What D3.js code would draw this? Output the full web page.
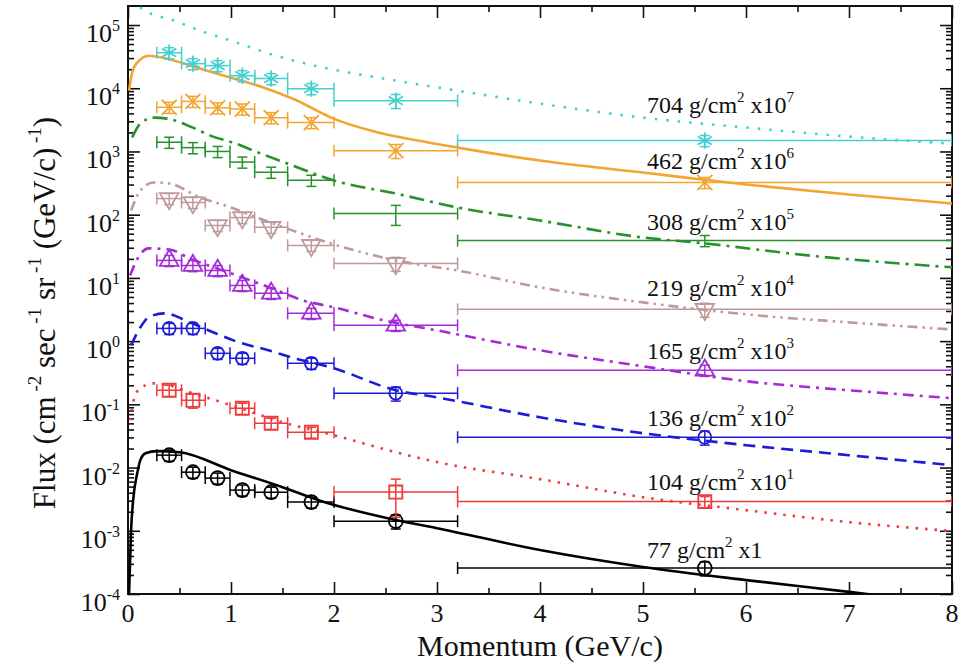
<!DOCTYPE html>
<html>
<head>
<meta charset="utf-8">
<script src="https://cdn.jsdelivr.net/npm/d3@7"></script>
<style>
    body { margin: 0; background: #fff; }
</style>
</head>
<body>
<div id="chart"></div>
<script>
var margin = {top: 6, right: 14, bottom: 77, left: 128},
    width = 966 - margin.left - margin.right,
    height = 671 - margin.top - margin.bottom;

var serifFont = "Liberation Serif";
var NBSP = "\u00a0";

// momentum bins (GeV/c)
var momentum = [0.4, 0.63, 0.87, 1.11, 1.39, 1.78, 2.6, 5.6];
var binLow = [0.28, 0.52, 0.75, 0.99, 1.23, 1.55, 2.0, 3.2];
var binHigh = [0.52, 0.75, 0.99, 1.23, 1.55, 2.0, 3.2, 8.0];

// atmospheric depths (g/cm2) and scale exponents
var depths = ["77", "104", "136", "165", "219", "308", "462", "704"];
var scaleExp = [0, 1, 2, 3, 4, 5, 6, 7];
var labelFlux = [3.7e-4, 0.0044, 0.0451, 0.515, 5.1, 58.3, 537, 4120];

// measured flux (already scaled), null = no point
var flux77 = [0.0157, 0.00845, 0.00681, 0.0044, 0.00408, 0.00284, 0.00142, 2.58e-4];
var flux104 = [0.167, 0.116, null, 0.0867, 0.0502, 0.0362, 0.0041, 0.0029];
var flux136 = [1.59, 1.59, 0.641, 0.535, null, 0.446, 0.150, 0.0302];
var flux165 = [18.9, 15.7, 13.1, 7.6, 5.7, 2.75, 1.78, 0.346];
var flux219 = [180, 156, 67.5, 90, 63, 32.7, 16.9, 3.18];
var flux308 = [1400, 1150, 1000, 680, 470, 350, 104, 39];
var flux462 = [5000, 6200, 4900, 4700, 3430, 2860, 1030, 323];
var flux704 = [36500, 24500, 22800, 15800, 14200, 9860, 6370, 1490];

// relative vertical errors
var err77 = [0.2, 0.2, 0.2, 0.2, 0.2, 0.2, 0.25, 0.25];
var err104 = [0.2, 0.25, 0, 0.2, 0.2, 0.2, 0.6, 0.2];
var err136 = [0.2, 0.2, 0.2, 0.2, 0, 0.2, 0.25, 0.25];
var err165 = [0.2, 0.2, 0.2, 0.2, 0.2, 0.2, 0.2, 0.2];
var err219 = [0.2, 0.2, 0.2, 0.2, 0.2, 0.2, 0.25, 0.25];
var err308 = [0.2, 0.2, 0.2, 0.2, 0.2, 0.2, 0.35, 0.2];
var err462 = [0.2, 0.2, 0.2, 0.2, 0.2, 0.2, 0.25, 0.2];
var err704 = [0.2, 0.2, 0.2, 0.2, 0.2, 0.2, 0.25, 0.2];

// model curves [momentum, flux]
var model77 = [[0.01, 1.0e-4], [0.03, 1.03e-3], [0.05, 3.05e-3], [0.09, 8.2e-3], [0.12, 0.0131], [0.17, 0.0169],
    [0.28, 0.0182], [0.5, 0.0175], [1.0, 0.0091], [1.5, 0.0049], [1.85, 0.00305], [2.6, 0.00148], [3.0, 0.0011],
    [4.0, 4.95e-4], [5.0, 2.67e-4], [6.0, 1.66e-4], [7.0, 1.08e-4], [7.5, 8.6e-5]];
var model104 = [[0.02, 0.056], [0.06, 0.125], [0.12, 0.18], [0.25, 0.215], [0.4, 0.2], [0.6, 0.155], [1.0, 0.097],
    [1.5, 0.052], [2.0, 0.0325], [2.6, 0.0175], [3.0, 0.0122], [4.0, 0.00656], [5.0, 0.0034], [6.0, 0.00212],
    [7.0, 0.00137], [8.0, 0.00099]];
var model136 = [[0.03, 0.86], [0.12, 1.65], [0.2, 2.38], [0.35, 2.75], [0.6, 1.98], [0.85, 1.33], [1.05, 0.99],
    [1.4, 0.69], [1.55, 0.575], [2.0, 0.372], [2.6, 0.167], [3.0, 0.129], [4.0, 0.0625], [5.0, 0.0349],
    [6.0, 0.0226], [7.0, 0.0157], [8.0, 0.0109]];
var model165 = [[0.02, 10.9], [0.1, 21.1], [0.2, 29.3], [0.4, 28.2], [0.6, 20.3], [1.0, 11.8], [1.4, 6.82],
    [1.7, 4.41], [2.0, 3.42], [2.5, 2.1], [3.0, 1.48], [4.0, 0.716], [5.0, 0.40], [6.0, 0.232], [7.0, 0.167], [8.0, 0.125]];
var model219 = [[0.03, 116], [0.12, 241], [0.25, 323], [0.4, 311], [0.7, 187], [1.0, 130], [1.25, 90], [1.6, 56],
    [2.0, 33.8], [2.7, 17.6], [3.2, 13.1], [4.0, 7.08], [5.0, 4.1], [6.0, 2.65], [7.0, 1.98], [8.0, 1.53]];
var model308 = [[0.04, 1660], [0.12, 2760], [0.25, 3430], [0.38, 3310], [0.63, 2380], [0.8, 1780], [1.05, 1330],
    [1.22, 1030], [1.6, 599], [2.0, 347], [2.6, 216], [3.2, 130], [4.0, 80.9], [5.0, 43.6], [5.6, 35.1], [6.6, 22.7],
    [8.0, 14.7]];
var model462 = [[0.01, 9160], [0.04, 17600], [0.09, 25400], [0.2, 32700], [0.34, 30400], [0.67, 21100], [1.0, 14700],
    [1.32, 10200], [1.64, 6400], [1.96, 3500], [2.4, 2050], [2.8, 1500], [3.2, 1150], [4.0, 718], [5.0, 464],
    [6.0, 300], [7.0, 208], [8.0, 150]];
var model704 = [[0.03, 250000], [0.15, 174600], [0.45, 117000], [0.73, 78300], [1.0, 56500], [1.4, 34000], [1.86, 21900],
    [2.6, 13200], [3.2, 9160], [4.0, 5710], [5.0, 3430], [6.0, 2390], [7.0, 1720], [8.0, 1330]];

var series = [
    {flux: flux77, err: err77, model: model77, color: "#000000", symbol: d3.symbolCircle, size: 150, dash: null},
    {flux: flux104, err: err104, model: model104, color: "#ee3b3b", symbol: d3.symbolSquare, size: 170, dash: "2.5,7"},
    {flux: flux136, err: err136, model: model136, color: "#1c1cd6", symbol: d3.symbolCircle, size: 130, dash: "12,7"},
    {flux: flux165, err: err165, model: model165, color: "#a52bd8", symbol: d3.symbolTriangle, size: 150, dash: "11,6,3,6"},
    {flux: flux219, err: err219, model: model219, color: "#c09a9a", symbol: d3.symbolTriangle, size: 150, flip: true, dash: "10,5,2.5,5,2.5,5"},
    {flux: flux308, err: err308, model: model308, color: "#27912b", symbol: d3.symbolCross, size: 0, dash: "15,6,3,6"},
    {flux: flux462, err: err462, model: model462, color: "#f2a531", symbol: d3.symbolX, size: 150, dash: null},
    {flux: flux704, err: err704, model: model704, color: "#46cfcf", symbol: d3.symbolAsterisk, size: 190, dash: "2.5,9"}
];

var svg = d3.select("#chart")
    .append("svg")
    .attr("width", width + margin.left + margin.right)
    .attr("height", height + margin.top + margin.bottom)
    .append("g")
    .attr("transform", "translate(" + margin.left + "," + margin.top + ")");

var x = d3.scaleLinear().domain([0, 8]).range([0, width]);
var y = d3.scaleLog().domain([1e-4, 2e5]).range([height, 0]);

svg.append("clipPath").attr("id", "plot-clip")
    .append("rect").attr("width", width).attr("height", height);

// tick values
var majorX = d3.range(0, 9);
var minorX = d3.range(0.5, 8, 1);
var majorY = d3.range(-4, 6).map(function (k) { return Math.pow(10, k); });
var minorY = [];
d3.range(-4, 6).forEach(function (k) {
    for (var m = 2; m <= 9; m++) {
        var v = m * Math.pow(10, k);
        if (v < 2e5) minorY.push(v);
    }
});

function styleAxis(g) {
    g.select(".domain").remove();
    g.selectAll(".tick line").attr("stroke", "#111").attr("stroke-width", 1.6);
}

// plain text element with the serif face as attributes
function addText(parent, size) {
    return parent.append("text")
        .attr("font-family", serifFont)
        .attr("font-size", size)
        .attr("fill", "#111");
}

// text with superscripts, built from separate <text> pieces (no tspans)
// pieces: [text, size, raise]
function richText(parent, x0, y0, pieces, anchor) {
    var g = parent.append("g");
    var nodes = pieces.map(function (p) {
        return addText(g, p[1]).attr("y", y0 - (p[2] || 0)).text(p[0]);
    });
    var widths = nodes.map(function (n) { return n.node().getComputedTextLength(); });
    var total = d3.sum(widths);
    var cx = anchor === "end" ? x0 - total : anchor === "middle" ? x0 - total / 2 : x0;
    nodes.forEach(function (n, i) {
        n.attr("x", cx);
        cx += widths[i];
    });
    return g;
}

// bottom / top
svg.append("g").attr("transform", "translate(0," + height + ")")
    .call(d3.axisBottom(x).tickValues(majorX).tickSize(-12).tickFormat(""))
    .call(styleAxis);
svg.append("g").attr("transform", "translate(0," + height + ")")
    .call(d3.axisBottom(x).tickValues(minorX).tickSize(-6).tickFormat(""))
    .call(styleAxis);
svg.append("g")
    .call(d3.axisTop(x).tickValues(majorX).tickSize(-12).tickFormat(""))
    .call(styleAxis);
svg.append("g")
    .call(d3.axisTop(x).tickValues(minorX).tickSize(-6).tickFormat(""))
    .call(styleAxis);

// left / right
svg.append("g")
    .call(d3.axisLeft(y).tickValues(majorY).tickSize(-12).tickFormat(""))
    .call(styleAxis);
svg.append("g")
    .call(d3.axisLeft(y).tickValues(minorY).tickSize(-6).tickFormat(""))
    .call(styleAxis);
svg.append("g").attr("transform", "translate(" + width + ",0)")
    .call(d3.axisRight(y).tickValues(majorY).tickSize(-12).tickFormat(""))
    .call(styleAxis);
svg.append("g").attr("transform", "translate(" + width + ",0)")
    .call(d3.axisRight(y).tickValues(minorY).tickSize(-6).tickFormat(""))
    .call(styleAxis);

// x tick labels
majorX.forEach(function (d) {
    addText(svg, 26)
        .attr("x", x(d))
        .attr("y", height + 28)
        .attr("text-anchor", "middle")
        .text(d);
});

// y tick labels 10^k
majorY.forEach(function (d) {
    richText(svg, -8, y(d) + 17, [
        ["10", 26, 0],
        [String(Math.round(Math.log10(d))), 16, 11]
    ], "end");
});

// frame
svg.append("rect")
    .attr("width", width)
    .attr("height", height)
    .attr("fill", "none")
    .attr("stroke", "#111")
    .attr("stroke-width", 2);

// model curves
var line = d3.line()
    .x(function (d) { return x(d[0]); })
    .y(function (d) { return y(d[1]); })
    .curve(d3.curveMonotoneX);

var plot = svg.append("g").attr("clip-path", "url(#plot-clip)");

series.forEach(function (s) {
    plot.append("path")
        .datum(s.model)
        .attr("d", line)
        .attr("fill", "none")
        .attr("stroke", s.color)
        .attr("stroke-width", 2.6)
        .attr("stroke-dasharray", s.dash);
});

// data points with error bars
series.forEach(function (s) {
    var pts = s.flux.map(function (v, i) {
        return {p: momentum[i], lo: binLow[i], hi: binHigh[i], v: v, e: s.err[i]};
    }).filter(function (d) { return d.v !== null; });

    var g = plot.append("g")
        .attr("stroke", s.color)
        .attr("fill", "none")
        .attr("stroke-width", 1.5);

    var pt = g.selectAll(".pt")
        .data(pts)
        .enter().append("g")
        .attr("class", "pt");

    // horizontal bin bar with end caps
    pt.append("line")
        .attr("x1", function (d) { return x(d.lo); })
        .attr("x2", function (d) { return x(d.hi); })
        .attr("y1", function (d) { return y(d.v); })
        .attr("y2", function (d) { return y(d.v); });
    pt.append("line")
        .attr("x1", function (d) { return x(d.lo); })
        .attr("x2", function (d) { return x(d.lo); })
        .attr("y1", function (d) { return y(d.v) - 6; })
        .attr("y2", function (d) { return y(d.v) + 6; });
    pt.append("line")
        .attr("x1", function (d) { return x(d.hi); })
        .attr("x2", function (d) { return x(d.hi); })
        .attr("y1", function (d) { return y(d.v) - 6; })
        .attr("y2", function (d) { return y(d.v) + 6; });

    // vertical error bar with caps
    pt.append("line")
        .attr("x1", function (d) { return x(d.p); })
        .attr("x2", function (d) { return x(d.p); })
        .attr("y1", function (d) { return y(d.v * (1 + d.e)); })
        .attr("y2", function (d) { return y(d.v * (1 - d.e)); });
    pt.append("line")
        .attr("x1", function (d) { return x(d.p) - 5; })
        .attr("x2", function (d) { return x(d.p) + 5; })
        .attr("y1", function (d) { return y(d.v * (1 + d.e)); })
        .attr("y2", function (d) { return y(d.v * (1 + d.e)); });
    pt.append("line")
        .attr("x1", function (d) { return x(d.p) - 5; })
        .attr("x2", function (d) { return x(d.p) + 5; })
        .attr("y1", function (d) { return y(d.v * (1 - d.e)); })
        .attr("y2", function (d) { return y(d.v * (1 - d.e)); });

    // marker
    if (s.size > 0) {
        pt.append("path")
            .attr("d", d3.symbol().type(s.symbol).size(s.size))
            .attr("transform", function (d) {
                return "translate(" + x(d.p) + "," + y(d.v) + ")" + (s.flip ? " rotate(180)" : "");
            })
            .attr("stroke-width", 1.8);
    }
});

// depth labels
depths.forEach(function (d, i) {
    var pieces = [
        [d + NBSP + "g/cm", 24, 0],
        ["2", 15, 11],
        [NBSP + (scaleExp[i] === 0 ? "x1" : "x10"), 24, 0]
    ];
    if (scaleExp[i] !== 0) pieces.push([String(scaleExp[i]), 15, 11]);
    richText(svg, x(5.04), y(labelFlux[i]), pieces, "start");
});

// axis titles
addText(svg, 30)
    .attr("x", width / 2)
    .attr("y", height + 62)
    .attr("text-anchor", "middle")
    .text("Momentum (GeV/c)");

var ytG = svg.append("g")
    .attr("transform", "translate(-73," + (height / 2 + 13) + ") rotate(-90)");
richText(ytG, 0, 0, [
    ["Flux" + NBSP + "(cm", 31, 0],
    [NBSP + "-2", 19, 14],
    [NBSP + "sec", 31, 0],
    [NBSP + "-1", 19, 14],
    [NBSP + "sr", 31, 0],
    [NBSP + "-1", 19, 14],
    [NBSP + "(GeV/c)", 31, 0],
    [NBSP + "-1", 19, 14],
    [")", 31, 0]
], "middle");
</script>
</body>
</html>
